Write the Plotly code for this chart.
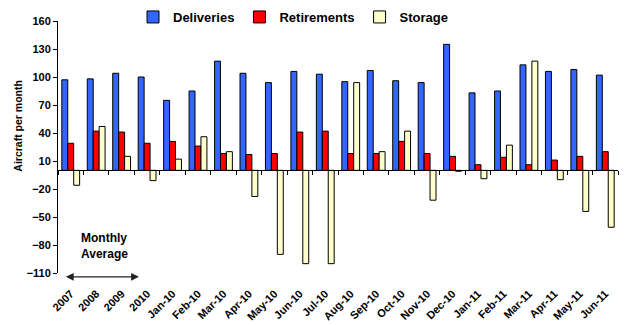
import plotly.graph_objects as go

categories = ["2007", "2008", "2009", "2010", "Jan-10", "Feb-10", "Mar-10", "Apr-10",
              "May-10", "Jun-10", "Jul-10", "Aug-10", "Sep-10", "Oct-10", "Nov-10",
              "Dec-10", "Jan-11", "Feb-11", "Mar-11", "Apr-11", "May-11", "Jun-11"]
deliveries = [97, 98, 104, 100, 75, 85, 117, 104, 94, 106, 103, 95, 107, 96, 94, 135,
              83, 85, 113, 106, 108, 102]
retirements = [29, 42, 41, 29, 31, 26, 18, 17, 18, 41, 42, 18, 18, 31, 18, 15,
               6, 14, 6, 11, 15, 20]
storage = [-16, 47, 15, -11, 12, 36, 20, -28, -90, -100, -100, 94, 20, 42, -32, -1,
           -9, 27, 117, -10, -44, -61]

FONT = "Liberation Sans"
fig = go.Figure()
fig.add_trace(go.Bar(name="Deliveries", x=categories, y=deliveries,
                     marker=dict(color="#3366FF", line=dict(color="black", width=1))))
fig.add_trace(go.Bar(name="Retirements", x=categories, y=retirements,
                     marker=dict(color="#FF0000", line=dict(color="black", width=1))))
fig.add_trace(go.Bar(name="Storage", x=categories, y=storage,
                     marker=dict(color="#FFFFCC", line=dict(color="black", width=1))))
# invisible trace to carry the zero-line axis with boundary ticks
fig.add_trace(go.Scatter(x=categories, y=[0] * len(categories), xaxis="x2",
                         mode="lines", line=dict(width=0), showlegend=False,
                         hoverinfo="skip"))

n = len(categories)
fig.update_layout(
    width=627, height=325,
    margin=dict(l=58, r=9, t=21, b=52, autoexpand=False),
    paper_bgcolor="white", plot_bgcolor="white",
    barmode="group", bargap=0.3, bargroupgap=0,
    font=dict(family=FONT, size=11, color="black", weight="bold"),
    legend=dict(orientation="h", x=133 / 627, xref="container", xanchor="left",
                y=1 - 2 / 325, yref="container", yanchor="top",
                font=dict(family=FONT, size=13, weight="bold"),
                bgcolor="rgba(0,0,0,0)", itemwidth=30),
    xaxis=dict(type="category", categoryorder="array", categoryarray=categories,
               range=[-0.5, n - 0.5], autorange=False,
               tickangle=-45, showline=False, ticks="outside", ticklen=9,
               tickcolor="rgba(0,0,0,0)", showgrid=False,
               tickfont=dict(family=FONT, size=11, weight="bold")),
    xaxis2=dict(type="category", categoryorder="array", categoryarray=categories,
                overlaying="x", matches="x", anchor="free", position=110 / 270,
                showline=True, linecolor="black", linewidth=1,
                ticks="outside", ticklen=4, tickcolor="black", tickson="boundaries",
                showticklabels=False, showgrid=False),
    yaxis=dict(range=[-110, 160], tick0=10, dtick=30, showgrid=False, zeroline=False,
               showline=True, linecolor="black", linewidth=1, ticks="outside",
               ticklen=4, tickcolor="black",
               tickfont=dict(family=FONT, size=11, weight="bold")),
    annotations=[
        dict(text="Aircraft per month", textangle=-90, xref="paper", yref="paper",
             x=-0.073, y=0.585, showarrow=False, xanchor="center", yanchor="middle",
             font=dict(family=FONT, size=10.5, weight="bold")),
        dict(text="Monthly<br>Average", xref="x", yref="y", x=0.33, y=-81,
             xanchor="left", showarrow=False, align="left",
             font=dict(family=FONT, size=12, weight="bold")),
        dict(text="", xref="x", yref="paper", x=2.68, y=-0.015, axref="x", ayref="pixel",
             ax=-0.25, ay=0, showarrow=True, arrowhead=2, arrowside="end+start",
             arrowsize=1.2, arrowwidth=1.3, arrowcolor="#222222"),
    ],
)

fig.write_html("out.html")
